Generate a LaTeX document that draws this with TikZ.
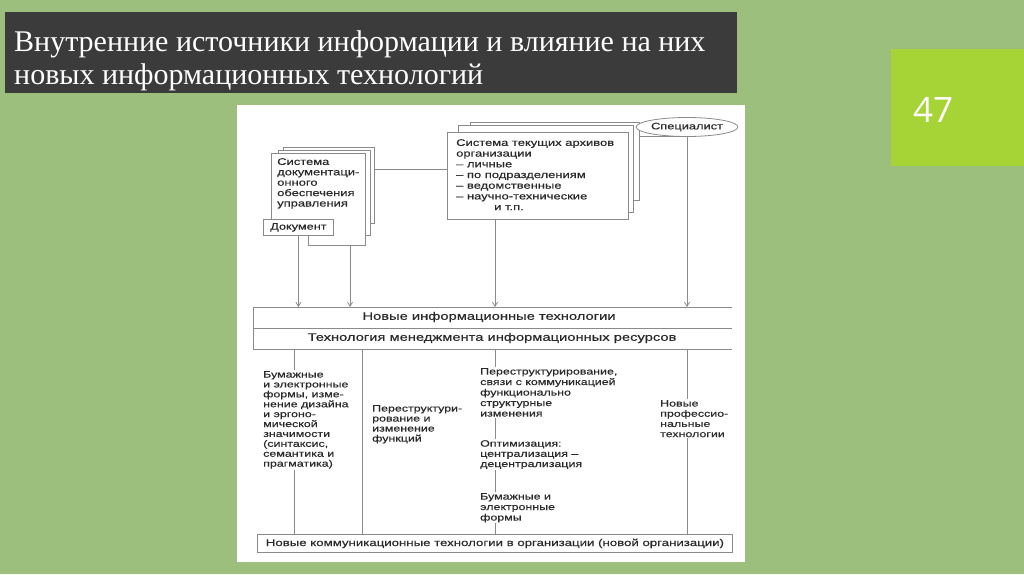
\documentclass[tikz,border=0pt]{standalone}
\usepackage{fontspec}
\setmainfont{Liberation Serif}
\newfontfamily\df[FakeStretch=1.35,FakeBold=0.4]{Liberation Sans}
\newfontfamily\numfont{Open Sans}
\usetikzlibrary{arrows.meta,shapes.geometric}
\definecolor{bg}{HTML}{9CBF7E}
\definecolor{tbox}{HTML}{3B3B3B}
\definecolor{lime}{HTML}{A6D335}
\definecolor{lnc}{HTML}{8A8A8A}
\definecolor{tx}{HTML}{2A2A2A}
\begin{document}
\begin{tikzpicture}[x=1pt,y=-1pt,
 ln/.style={draw=lnc, line width=0.8pt},
 arr/.style={ln, -{Straight Barb[length=4pt,width=5pt]}},
 sheet/.style={draw=lnc, fill=white, line width=0.8pt, inner sep=0, anchor=north west},
 lbl/.style={font=\df\fontsize{9.2}{10}\selectfont, text=tx, align=left, inner sep=1pt, fill=white, anchor=north west},
 ttl/.style={anchor=base west, text=white, font=\fontsize{30}{34}\selectfont, inner sep=0},
]
\fill[bg] (0,0) rectangle (1024,574);
\useasboundingbox (0,0) rectangle (1024,574);
\fill[tbox] (5,12) rectangle (737,93);
\node[ttl] (t1) at (14,51) {Внутренние источники информации и влияние на них};
\node[ttl] (t2) at (14,84) {новых информационных технологий};
\fill[lime] (891,49) rectangle (1024,166);
\node[text=white, font=\numfont\fontsize{35}{35}\selectfont, anchor=base west, inner sep=0] (num) at (913,122) {47};
\fill[white] (237,105) rectangle (745,562);

% left stack
\node[sheet, minimum width=91, minimum height=76] (ls3) at (283,147) {};
\node[sheet, minimum width=92, minimum height=85] (ls2) at (278,150) {};
\filldraw[ln, fill=white] (271,219) -- (271,153) -- (365,153) -- (365,245) -- (308,245) -- (308,235);
\coordinate (fsout) at (350,245);
\node[lbl, fill=none, font=\df\fontsize{9.6}{10.4}\selectfont] (sdou) at (276,157) {Система\\документаци-\\онного\\обеспечения\\управления};
\node[draw=lnc, line width=0.8pt, fill=white, font=\df\fontsize{9.4}{11}\selectfont, text=tx, minimum width=70, minimum height=16, anchor=north west, inner sep=0] (doc) at (263,219) {Документ};

% archive stack
\node[sheet, minimum width=169, minimum height=78] (as3) at (470,122) {};
\node[sheet, minimum width=175, minimum height=87] (as2) at (458,125) {};
\node[sheet, minimum width=181, minimum height=87] (arch) at (447,132) {};
\node[lbl, fill=none, font=\df\fontsize{9.6}{10.7}\selectfont] (archtxt) at (455,138) {Система текущих архивов\\организации\\– личные\\– по подразделениям\\– ведомственные\\– научно-технические\\\hspace*{38pt}и т.п.};
\coordinate (archout) at (495,219);

% specialist
\node[ellipse, draw=lnc, line width=0.8pt, fill=white, minimum width=91, minimum height=19, inner sep=0, font=\df\fontsize{9.5}{11}\selectfont, text=tx] (spec) at (687,127) {Специалист};

% band
\node[anchor=north west, minimum width=479, minimum height=42, inner sep=0] (band) at (253,307) {};
\draw[ln] (band.north east) -- (band.north west) -- (band.south west) -- (band.south east);
\draw[ln] (band.west) -- (band.east);
\node[font=\df\fontsize{10.9}{12}\selectfont, text=tx, inner sep=0] (nit) at (489,317) {Новые информационные технологии};
\node[font=\df\fontsize{10.9}{12}\selectfont, text=tx, inner sep=0] (tmir) at (492,338) {Технология менеджмента информационных ресурсов};

% connectors top
\coordinate (h1) at (0,169);
\coordinate (h2) at (0,136);
\draw[ln] (ls3.east |- h1) -- (arch.west |- h1);
\draw[ln] (as3.east |- h2) -- (spec.south |- h2);
\draw[arr] (doc.south) -- (doc.south |- band.north);
\draw[arr] (fsout) -- (fsout |- band.north);
\draw[arr] (archout) -- (archout |- band.north);
\draw[arr] (spec.south) -- (spec.south |- band.north);

% bottom box
\node[draw=lnc, line width=0.8pt, anchor=north west, minimum width=475, minimum height=18, inner sep=0, font=\df\fontsize{9.8}{11}\selectfont, text=tx] (nkt) at (257,534) {Новые коммуникационные технологии в организации (новой организации)};

% lower verticals
\coordinate (c1) at (294,349);
\coordinate (c2) at (362,349);
\coordinate (c3) at (495,349);
\coordinate (c4) at (687,349);
\draw[ln] (c1) -- (c1 |- nkt.north);
\draw[ln] (c2) -- (c2 |- nkt.north);
\draw[ln] (c3) -- (c3 |- nkt.north);
\draw[ln] (c4) -- (c4 |- nkt.north);

% column texts
\node[lbl, font=\df\fontsize{9.2}{9.9}\selectfont] (col1) at (262,370) {Бумажные\\и электронные\\формы, изме-\\нение дизайна\\и эргоно-\\мической\\значимости\\(синтаксис,\\семантика и\\прагматика)};
\node[lbl] (col2) at (371,404) {Переструктури-\\рование и\\изменение\\функций};
\node[lbl, font=\df\fontsize{9.2}{10.5}\selectfont] (col3a) at (479,367) {Переструктурирование,\\связи с коммуникацией\\функционально\\структурные\\изменения};
\node[lbl, font=\df\fontsize{9.2}{10.2}\selectfont] (col3b) at (479,439) {Оптимизация:\\централизация –\\децентрализация};
\node[lbl, font=\df\fontsize{9.2}{10.5}\selectfont] (col3c) at (479,492) {Бумажные и\\электронные\\формы};
\node[lbl, font=\df\fontsize{9.2}{10.2}\selectfont] (col4) at (659,399) {Новые\\профессио-\\нальные\\технологии};
\end{tikzpicture}
\end{document}
